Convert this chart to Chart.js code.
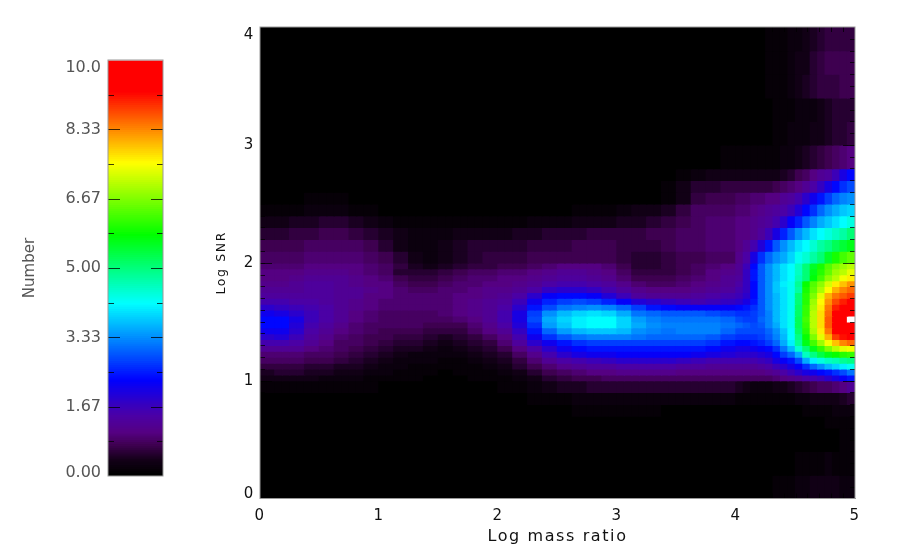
<!DOCTYPE html>
<html>
<head>
<meta charset="utf-8">
<script src="https://cdn.jsdelivr.net/npm/chart.js@4"></script>
<style>
body { margin: 0; background: #fff; width: 900px; height: 554px; overflow: hidden; position: relative; }
canvas { position: absolute; top: 0; }
#scalebar { left: 0; }
#density { left: 190px; }
</style>
</head>
<body>
<canvas id="scalebar" width="190" height="554"></canvas>
<canvas id="density" width="710" height="554"></canvas>
<script>
// width of each table column, in 1/16 of a log mass ratio unit
const columnSpans = [2,2,2,2,2,2,2,2,2,2,2,2,2,2,2,2,2,2,2,2,2,2,2,2,2,2,2,2,2,2,2,2,1,1,1,1,1,1,1,1,1,1,1,1,1,1,1,1];
// log SNR edges of the table rows, top to bottom
const rowEdges = [4,3.8,3.6,3.4,3.2,3,2.8,2.7,2.6,2.5,2.4,2.3,2.2,2.1,2,1.95,1.9,1.85,1.8,1.75,1.7,1.65,1.6,1.55,1.5,1.45,1.4,1.35,1.3,1.25,1.2,1.15,1.1,1.05,1,0.9,0.8,0.7,0.6,0.4,0.2,0];
// number per cell, in tenths, one line per row
const cellTenths = [
[0,0,0,0,0,0,0,0,0,0,0,0,0,0,0,0,0,0,0,0,0,0,0,0,0,0,0,0,0,0,0,0,0,0,0,0,1,1,1,2,2,3,4,5,6,6,6,6],
[0,0,0,0,0,0,0,0,0,0,0,0,0,0,0,0,0,0,0,0,0,0,0,0,0,0,0,0,0,0,0,0,0,0,0,0,1,1,1,2,3,3,5,6,7,7,7,7],
[0,0,0,0,0,0,0,0,0,0,0,0,0,0,0,0,0,0,0,0,0,0,0,0,0,0,0,0,0,0,0,0,0,0,0,0,1,1,1,2,3,4,5,6,6,6,7,7],
[0,0,0,0,0,0,0,0,0,0,0,0,0,0,0,0,0,0,0,0,0,0,0,0,0,0,0,0,0,0,0,0,0,0,0,0,0,1,1,1,2,2,2,3,4,5,5,5],
[0,0,0,0,0,0,0,0,0,0,0,0,0,0,0,0,0,0,0,0,0,0,0,0,0,0,0,0,0,0,0,0,0,0,0,0,0,1,1,2,2,2,3,3,4,5,5,6],
[0,0,0,0,0,0,0,0,0,0,0,0,0,0,0,0,0,0,0,0,0,0,0,0,0,0,0,0,0,0,0,1,1,1,1,1,1,1,2,2,3,4,5,6,7,8,9,10],
[0,0,0,0,0,0,0,0,0,0,0,0,0,0,0,0,0,0,0,0,0,0,0,0,0,0,0,0,1,2,3,3,3,3,3,3,3,3,4,5,7,8,10,12,13,16,20,23],
[0,0,0,0,0,0,0,0,0,0,0,0,0,0,0,0,0,0,0,0,0,0,0,0,0,0,0,1,3,5,5,6,6,6,6,6,6,7,8,9,10,12,14,17,20,23,26,28],
[0,0,0,1,1,1,0,0,0,0,0,0,0,0,0,0,0,0,0,0,0,0,0,0,0,0,0,1,3,6,7,7,8,8,9,9,10,10,12,13,15,18,21,24,27,30,32,33],
[1,1,1,2,2,2,1,1,0,0,0,0,0,0,0,0,0,0,0,0,0,1,1,1,2,3,3,4,6,8,8,8,9,9,10,11,12,13,14,16,19,23,26,30,33,35,37,38],
[3,3,4,4,5,5,4,3,2,1,1,1,1,1,1,1,1,1,2,2,2,3,3,3,4,4,5,6,7,8,9,9,10,10,11,12,13,15,18,22,25,29,32,35,37,39,41,43],
[5,5,6,6,7,7,6,5,4,3,2,2,2,3,3,3,3,4,4,5,5,5,6,6,6,6,7,7,8,8,9,9,10,10,11,13,16,20,25,29,33,36,39,41,43,45,47,50],
[7,7,7,8,8,8,8,7,5,3,2,2,3,4,5,5,5,5,6,6,6,7,7,7,6,6,6,7,8,8,9,9,10,12,15,19,24,29,33,36,39,41,44,47,49,52,54,56],
[8,8,8,9,9,9,9,8,7,5,3,2,3,4,5,6,6,6,7,7,7,7,7,7,6,5,5,6,7,7,8,8,11,14,20,26,30,33,35,38,42,44,47,50,55,59,62,64],
[9,9,9,10,10,10,10,9,8,6,4,3,4,5,6,6,7,7,8,9,10,10,10,9,7,5,5,6,7,8,9,10,12,16,23,29,33,36,39,41,45,50,55,59,63,66,68,70],
[10,10,10,11,11,11,10,9,8,5,5,5,6,7,8,8,9,9,10,11,12,12,11,10,8,6,6,6,7,8,10,11,12,17,24,29,33,36,39,41,45,50,56,60,64,68,70,73],
[10,10,11,12,12,12,11,10,9,7,6,6,7,8,9,9,10,10,11,12,13,13,12,11,9,7,7,7,8,9,10,12,13,17,24,29,33,36,39,41,46,50,57,62,67,70,74,76],
[11,11,12,13,13,12,11,10,10,8,7,7,8,9,9,10,10,11,12,14,15,15,14,13,11,9,8,8,9,10,11,12,14,17,23,29,33,37,40,42,48,58,63,67,72,76,79,82],
[12,12,12,13,13,12,12,11,10,9,8,8,9,9,10,11,11,12,14,17,18,18,17,15,13,11,10,10,10,11,12,13,15,17,23,29,33,37,39,42,47,59,64,69,75,80,83,85],
[13,13,13,13,13,12,12,10,10,9,9,9,9,10,10,11,12,14,18,22,23,23,22,19,16,13,12,12,12,13,14,15,16,18,23,29,33,36,39,42,50,60,66,73,80,84,86,88],
[15,15,14,14,13,12,11,10,9,9,9,9,9,10,11,12,13,16,21,25,27,28,27,25,22,19,18,17,16,15,16,17,18,20,24,29,33,36,39,42,50,60,68,75,82,87,90,92],
[18,17,16,15,14,12,11,10,9,9,9,9,9,10,11,12,14,18,24,28,31,32,33,32,30,27,24,23,22,22,22,22,23,24,26,29,33,36,39,42,51,61,69,76,84,90,93,95],
[21,20,18,16,14,12,10,9,8,8,8,8,9,10,11,12,15,20,27,33,36,38,39,38,35,31,30,29,29,29,28,27,26,26,27,29,32,36,39,42,51,61,70,77,85,92,95,97],
[23,23,20,16,14,12,10,9,8,8,8,8,8,9,10,12,15,20,28,35,38,40,41,41,38,34,32,31,31,31,31,30,28,27,27,30,32,36,39,42,52,62,70,77,86,93,96,101],
[23,23,19,15,13,11,9,8,8,8,8,7,7,7,9,11,14,19,26,34,37,40,41,41,38,35,33,32,32,32,32,31,30,29,28,29,32,35,39,42,52,61,70,77,86,92,95,97],
[21,21,18,14,12,10,9,8,7,7,7,6,6,6,8,10,12,17,24,30,34,36,37,37,36,33,32,31,32,32,32,30,28,28,28,28,30,33,37,41,51,60,69,76,84,92,94,95],
[18,19,16,13,11,9,8,7,7,6,6,5,4,5,6,8,10,15,21,26,29,31,32,32,32,31,30,30,30,30,29,27,26,26,26,27,29,32,36,41,49,58,66,73,80,88,91,92],
[15,15,14,12,10,8,8,7,6,5,5,4,3,4,5,6,9,13,18,21,24,26,27,27,27,27,27,27,27,27,26,24,23,23,24,25,27,30,35,40,48,56,62,68,74,79,83,85],
[12,12,12,10,9,8,7,6,5,4,4,3,2,3,4,5,7,10,14,18,21,23,24,24,24,24,24,24,24,24,23,21,20,20,21,22,23,26,31,36,44,50,56,61,66,70,73,74],
[9,9,9,8,8,7,6,5,4,3,2,2,2,2,3,4,5,8,11,15,18,20,21,21,22,22,22,22,22,21,20,19,18,18,18,19,20,23,27,30,35,45,49,53,56,58,60,61],
[8,8,8,7,7,6,5,4,3,2,2,2,1,1,2,3,4,6,9,12,14,15,16,17,18,18,18,18,17,16,15,15,15,15,15,16,17,20,22,24,28,35,40,43,45,46,48,49],
[6,6,6,5,5,4,4,3,2,2,1,1,1,1,1,2,3,5,7,9,11,12,13,13,14,14,14,14,13,13,12,12,12,12,12,13,14,16,18,20,22,26,30,33,36,38,40,42],
[4,5,5,4,4,3,3,2,2,1,1,1,0,1,1,1,2,3,5,7,8,9,10,10,11,11,11,11,10,10,10,10,10,10,10,10,11,12,14,16,18,20,21,23,24,26,28,31],
[3,3,3,3,2,2,2,1,1,1,1,0,0,0,1,1,1,2,3,5,6,7,7,8,8,8,8,8,8,8,8,8,8,8,8,8,8,9,10,11,12,14,15,16,18,20,22,24],
[1,1,1,1,1,1,1,1,0,0,0,0,0,0,0,0,1,1,2,3,4,4,5,5,5,5,5,5,5,5,5,5,4,3,2,2,2,3,3,4,5,6,7,8,8,9,10,12],
[0,0,0,0,0,0,0,0,0,0,0,0,0,0,0,0,0,0,1,1,1,2,2,2,2,2,2,2,2,2,2,2,1,1,1,1,1,1,1,1,2,2,3,3,3,3,4,5],
[0,0,0,0,0,0,0,0,0,0,0,0,0,0,0,0,0,0,0,0,0,1,1,1,1,1,1,0,0,0,0,0,0,0,0,0,0,0,0,0,0,1,1,1,1,2,2,2],
[0,0,0,0,0,0,0,0,0,0,0,0,0,0,0,0,0,0,0,0,0,0,0,0,0,0,0,0,0,0,0,0,0,0,0,0,0,0,0,0,0,0,0,0,1,1,1,1],
[0,0,0,0,0,0,0,0,0,0,0,0,0,0,0,0,0,0,0,0,0,0,0,0,0,0,0,0,0,0,0,0,0,0,0,0,0,0,0,0,0,0,0,0,0,0,1,1],
[0,0,0,0,0,0,0,0,0,0,0,0,0,0,0,0,0,0,0,0,0,0,0,0,0,0,0,0,0,0,0,0,0,0,0,0,0,0,0,0,1,1,1,1,2,1,1,1],
[0,0,0,0,0,0,0,0,0,0,0,0,0,0,0,0,0,0,0,0,0,0,0,0,0,0,0,0,0,0,0,0,0,0,0,0,0,1,1,1,2,2,3,3,3,3,2,2]
];

const xTickValues = [0,1,2,3,4,5];
const yTickValues = [0,1,2,3,4];
const barTickValues = [0,1.67,3.33,5,6.67,8.33,10];
const barTickLabels = ['0.00','1.67','3.33','5.00','6.67','8.33','10.0'];
const barMinorTicks = [0.83,2.5,4.17,5.83,7.5,9.17];
// bottom edge of each colour strip in the scale bar, in tenths
const rampLevels = [0,0.5,1,1.5,2,2.5,3,3.5,4,4.5,5,5.5,6,6.5,7,7.5,8,8.5,9,9.5,10,10.5,11,11.5,12,12.5,13,13.5,14,14.5,15,15.5,16,16.5,17,17.5,18,18.5,19,19.5,20,20.5,21,21.5,22,22.5,23,23.5,24,24.5,25,25.5,26,26.5,27,27.5,28,28.5,29,29.5,30,30.5,31,31.5,32,32.5,33,33.5,34,34.5,35,35.5,36,36.5,37,37.5,38,38.5,39,39.5,40,40.5,41,41.5,42,42.5,43,43.5,44,44.5,45,45.5,46,46.5,47,47.5,48,48.5,49,49.5,50,50.5,51,51.5,52,52.5,53,53.5,54,54.5,55,55.5,56,56.5,57,57.5,58,58.5,59,59.5,60,60.5,61,61.5,62,62.5,63,63.5,64,64.5,65,65.5,66,66.5,67,67.5,68,68.5,69,69.5,70,70.5,71,71.5,72,72.5,73,73.5,74,74.5,75,75.5,76,76.5,77,77.5,78,78.5,79,79.5,80,80.5,81,81.5,82,82.5,83,83.5,84,84.5,85,85.5,86,86.5,87,87.5,88,88.5,89,89.5,90,90.5,91,91.5,92,92.5,93,94,95,96,97,98,99,99.7,100];

// rainbow + white colour table
const colorStops = [
    [0,0,0,0],[0.35,20,0,25],[0.7,62,0,80],[1,85,0,130],[1.4,75,0,165],[1.67,55,0,190],
    [2.26,0,0,255],[4.11,0,255,255],[5.75,0,255,0],[7.48,255,255,0],[9.2,255,0,0],[9.97,255,0,0]
];

function colorFor(v) {
    if (v >= 9.97) return '#fff';
    for (let i = 1; i < colorStops.length; i++) {
        const a = colorStops[i-1], b = colorStops[i];
        if (v <= b[0]) {
            const t = (v - a[0]) / (b[0] - a[0]);
            return `rgb(${[1,2,3].map(k => Math.round(a[k] + (b[k]-a[k])*t)).join(',')})`;
        }
    }
    return '#f00';
}

// every table column spans one or two category bins
const expand = row => row.flatMap((v, i) => Array(columnSpans[i]).fill(v));
const bins = expand(columnSpans.map((s, i) => i));

const cellDatasets = cellTenths.map((row, r) => ({
    data: expand(row).map(() => [rowEdges[r+1], rowEdges[r]]),
    backgroundColor: expand(row).map(v => colorFor(v/10)),
    xAxisID: 'bins',
    grouped: false,
    barPercentage: 1,
    categoryPercentage: 1,
    inflateAmount: 0.7
}));

const rampDatasets = rampLevels.slice(0, -1).map((v, i) => ({
    data: [[v/10, rampLevels[i+1]/10]],
    backgroundColor: colorFor(v/10),
    grouped: false,
    barPercentage: 1,
    categoryPercentage: 1,
    inflateAmount: 0.7
}));

// inward tick marks and the grey frame, placed with the chart's scales
const edgeTicks = (marks, spacing) => ({
    id: 'edgeTicks',
    beforeDraw(chart) {
        // canvas sizing wipes the context state, so the spacing is set here
        chart.ctx.letterSpacing = spacing;
    },
    beforeDatasetsDraw(chart) {
        const a = chart.chartArea;
        chart.ctx.fillStyle = '#000';
        chart.ctx.fillRect(a.left, a.top, a.right - a.left, a.bottom - a.top);
    },
    afterDatasetsDraw(chart) {
        const ctx = chart.ctx, a = chart.chartArea;
        ctx.save();
        ctx.lineWidth = 1;
        ctx.strokeStyle = 'rgba(0,0,0,0.75)';
        marks.forEach(m => {
            const sc = chart.scales[m.axis];
            m.values.forEach(v => {
                const p = Math.round(sc.getPixelForValue(v)) + 0.5;
                ctx.beginPath();
                if (m.axis === 'y') {
                    ctx.moveTo(a.left, p); ctx.lineTo(a.left + m.len, p);
                    ctx.moveTo(a.right, p); ctx.lineTo(a.right - m.len, p);
                } else {
                    ctx.moveTo(p, a.bottom); ctx.lineTo(p, a.bottom - m.len);
                    ctx.moveTo(p, a.top); ctx.lineTo(p, a.top + m.len);
                }
                ctx.stroke();
            });
        });
        ctx.strokeStyle = '#999';
        ctx.strokeRect(a.left, a.top, a.right - a.left, a.bottom - a.top);
        ctx.restore();
    }
});

const tenths = (from, to) => { const out = []; for (let i = from; i <= to; i++) out.push(i/10); return out; };

new Chart(document.getElementById('scalebar'), {
    type: 'bar',
    data: { labels: [''], datasets: rampDatasets },
    options: {
        responsive: false,
        animation: false,
        layout: { padding: { top: 60, right: 27, bottom: 78 } },
        plugins: { legend: { display: false }, tooltip: { enabled: false } },
        scales: {
            x: { display: false },
            y: {
                min: 0,
                max: 10,
                afterBuildTicks: s => { s.ticks = barTickValues.map(v => ({ value: v })); },
                afterFit: s => { s.width = 108; },
                grid: { display: false, drawTicks: false },
                border: { display: false },
                ticks: {
                    autoSkip: false,
                    padding: 7,
                    color: '#555',
                    font: ctx => ({ family: 'DejaVu Sans', size: 16, lineHeight: ctx.index === 0 ? 0.4 : 1 }),
                    callback: (v, i) => i === 0 ? [barTickLabels[i], ' '] : i === 6 ? [' ', barTickLabels[i]] : barTickLabels[i]
                },
                title: {
                    display: true,
                    text: 'Number',
                    color: '#555',
                    font: { family: 'DejaVu Sans', size: 15 },
                    padding: { top: 21, bottom: 0 }
                }
            }
        }
    },
    plugins: [edgeTicks([
        { axis: 'y', values: barTickValues.slice(1, 6), len: 12 },
        { axis: 'y', values: barMinorTicks, len: 6 }
    ], '0px')]
});

new Chart(document.getElementById('density'), {
    type: 'bar',
    data: { labels: bins, datasets: cellDatasets },
    options: {
        responsive: false,
        animation: false,
        layout: { padding: { top: 27, right: 45 } },
        plugins: { legend: { display: false }, tooltip: { enabled: false } },
        scales: {
            bins: { type: 'category', axis: 'x', display: false },
            x: {
                type: 'linear',
                min: 0,
                max: 5,
                offset: false,
                position: 'bottom',
                afterBuildTicks: s => { s.ticks = xTickValues.map(v => ({ value: v })); },
                afterFit: s => { s.height = 55.5; },
                grid: { display: false, drawTicks: false },
                border: { color: '#999' },
                ticks: {
                    maxRotation: 0,
                    padding: 9,
                    color: '#111',
                    font: { family: 'DejaVu Sans', size: 15 }
                },
                title: {
                    display: true,
                    text: 'Log mass ratio',
                    color: '#111',
                    font: { family: 'DejaVu Sans', size: 16 },
                    padding: { top: 0, bottom: 8 }
                }
            },
            y: {
                min: 0,
                max: 4,
                afterBuildTicks: s => { s.ticks = yTickValues.map(v => ({ value: v })); },
                afterFit: s => { s.width = 70; },
                grid: { display: false, drawTicks: false },
                border: { color: '#999' },
                ticks: {
                    padding: 5,
                    color: '#111',
                    font: ctx => ({ family: 'DejaVu Sans', size: 15, lineHeight: ctx.index === 0 ? 0.57 : 1.04 }),
                    callback: v => v === 0 ? ['0', ' '] : v === 4 ? [' ', '4'] : String(v)
                },
                title: {
                    display: true,
                    text: 'Log SNR',
                    color: '#111',
                    font: { family: 'DejaVu Sans', size: 12.5 },
                    padding: { top: 24, bottom: 0 }
                }
            }
        }
    },
    plugins: [edgeTicks([
        { axis: 'y', values: tenths(1, 39), len: 5 },
        { axis: 'y', values: yTickValues.slice(1, 4), len: 12 },
        { axis: 'x', values: tenths(1, 49), len: 5 },
        { axis: 'x', values: xTickValues.slice(1, 5), len: 12 }
    ], '1.6px')]
});
</script>
</body>
</html>
